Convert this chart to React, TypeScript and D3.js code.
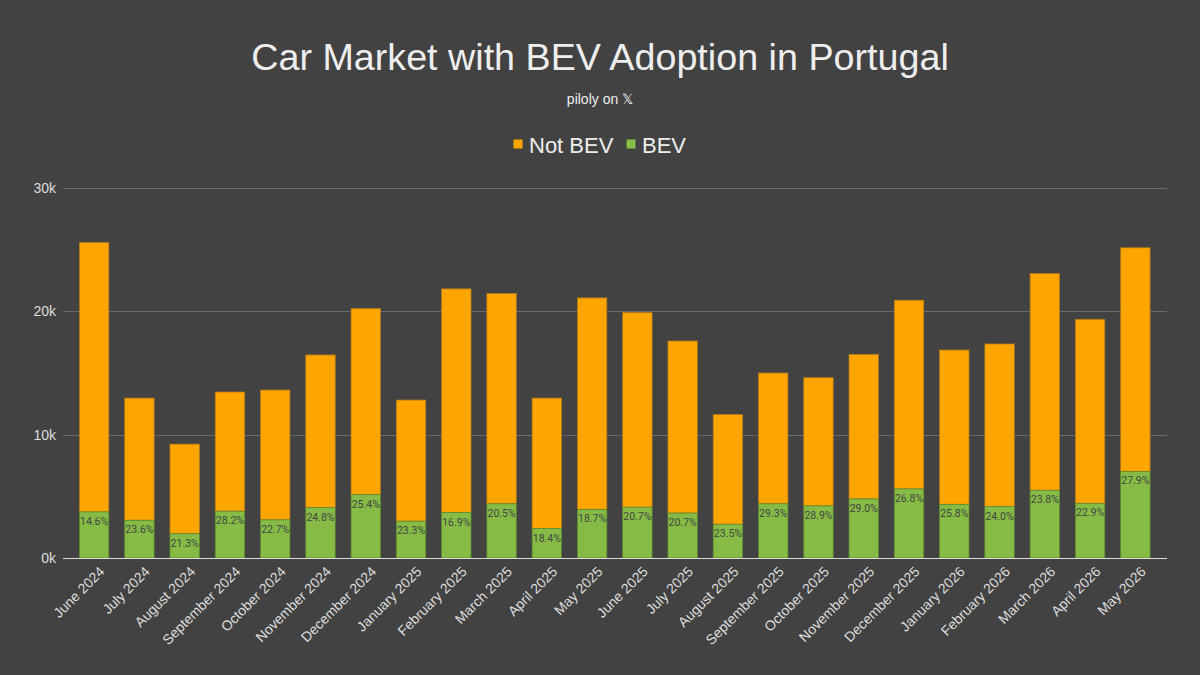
import React from "react";
import * as d3 from "d3";

const months = [
  "June 2024", "July 2024", "August 2024", "September 2024", "October 2024", "November 2024",
  "December 2024", "January 2025", "February 2025", "March 2025", "April 2025", "May 2025",
  "June 2025", "July 2025", "August 2025", "September 2025", "October 2025", "November 2025",
  "December 2025", "January 2026", "February 2026", "March 2026", "April 2026", "May 2026",
];
const bev = [
  3730, 3056, 1964, 3790, 3087, 4077, 5128, 2980, 3683, 4389, 2383, 3938,
  4113, 3637, 2731, 4389, 4219, 4782, 5593, 4345, 4159, 5481, 4427, 7008,
];
const notBev = [
  21820, 9894, 7256, 9650, 10513, 12363, 15062, 9810, 18107, 17021, 10567, 17122,
  15757, 13933, 8889, 10591, 10381, 11708, 15277, 12495, 13171, 17549, 14903, 18112,
];
const yTicks = [0, 10000, 20000, 30000];
const seriesNames = ["Not BEV", "BEV"];

const W = 1200, H = 675;
const BG = "#424242";
const ORANGE = "#FFA500";
const GREEN = "#86BC45";
const FONT = "'Liberation Sans', Arial, sans-serif";

export default function App() {
  const x = d3.scaleBand<string>().domain(months).range([71.5, 1158]).paddingInner(0.35).paddingOuter(0.175);
  const y = d3.scaleLinear().domain([0, 30000]).range([558, 187.5]);
  const bw = x.bandwidth();

  return (
    <svg width={W} height={H} style={{ position: "absolute", left: 0, top: 0, display: "block" }}>
      <rect x={0} y={0} width={W} height={H} fill={BG} />
      <text x={600} y={70} textAnchor="middle" fontFamily={FONT} fontSize={37.7} fill="#eeeeee">
        Car Market with BEV Adoption in Portugal
      </text>
      <text x={600} y={104} textAnchor="middle" fontFamily={FONT} fontSize={14} fill="#eeeeee">
        piloly on 𝕏
      </text>
      {/* legend */}
      <g fontFamily={FONT} fontSize={22} fill="#eeeeee">
        <rect x={513.5} y={139.5} width={9} height={9} fill={ORANGE} />
        <text x={529} y={152.5}>{seriesNames[0]}</text>
        <rect x={626.5} y={139.5} width={9} height={9} fill={GREEN} />
        <text x={642} y={152.5}>{seriesNames[1]}</text>
      </g>
      {/* gridlines */}
      {yTicks.map((t) => (
        <g key={t}>
          {t > 0 && (
            <line x1={63} x2={1167} y1={Math.round(y(t)) + 0.5} y2={Math.round(y(t)) + 0.5} stroke="#6a6a6a" strokeWidth={1} />
          )}
          <text x={56} y={y(t) + 5} textAnchor="end" fontFamily={FONT} fontSize={14} fill="#dddddd">
            {t / 1000 + "k"}
          </text>
        </g>
      ))}
      {/* bars */}
      {months.map((m, i) => {
        const x0 = x(m)!;
        const total = bev[i] + notBev[i];
        const pct = ((bev[i] / total) * 100).toFixed(1) + "%";
        return (
          <g key={m}>
            <rect x={x0} y={y(total)} width={bw} height={y(bev[i]) - y(total)} fill={ORANGE} stroke="#b07a1a" strokeWidth={0.8} />
            <rect x={x0} y={y(bev[i])} width={bw} height={y(0) - y(bev[i])} fill={GREEN} stroke="#5f8a30" strokeWidth={0.8} />
            <text x={x0 + bw / 2} y={y(bev[i]) + 13} textAnchor="middle" fontFamily="Roboto, sans-serif" fontSize={10.5} fill="#444444">
              {pct}
            </text>
          </g>
        );
      })}
      <line x1={63} x2={1167} y1={558.5} y2={558.5} stroke="#dddddd" strokeWidth={1} />
      {/* x labels */}
      {months.map((m) => {
        const cx = x(m)! + bw / 2;
        return (
          <text key={m} transform={`translate(${cx + 8},${569}) rotate(-45)`} textAnchor="end" fontFamily={FONT} fontSize={14} fill="#dddddd" dy="0.35em">
            {m}
          </text>
        );
      })}
    </svg>
  );
}
